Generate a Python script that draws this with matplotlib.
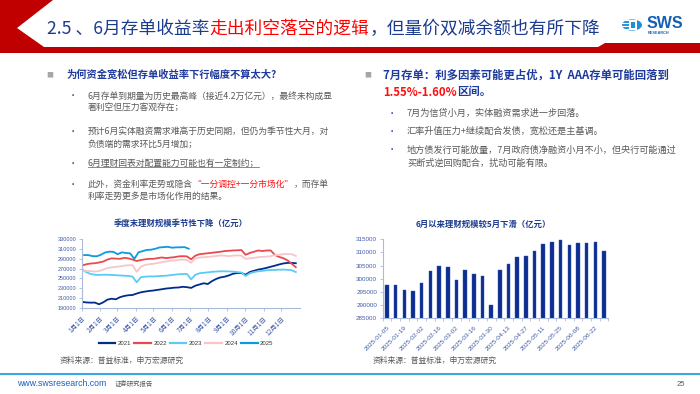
import matplotlib
matplotlib.use('Agg')
import matplotlib.pyplot as plt
from matplotlib.patches import Polygon, Circle, Rectangle
from matplotlib.lines import Line2D
from matplotlib.ticker import FixedLocator
import numpy as np
import pandas as pd

CJK = ['Noto Sans CJK SC', 'DejaVu Sans']
LAT = ['Liberation Sans', 'DejaVu Sans']
plt.rcParams['font.family'] = CJK

# ---------------- data ----------------
month_labels = ['1月1日', '2月1日', '3月1日', '4月1日', '5月1日', '6月1日',
                '7月1日', '8月1日', '9月1日', '10月1日', '11月1日', '12月1日']
month_days = [0, 31, 59, 90, 120, 151, 181, 212, 243, 273, 304, 334]
week_days = list(range(1, 359, 7))  # weekly observation days (day of year)

v2021 = [201700, 200800, 200300, 200500, 197000, 201000, 206500, 208400, 207200, 211500,
         214000, 215500, 216000, 219000, 221500, 223000, 224300, 225200, 226500, 227800,
         229200, 230000, 231000, 231400, 232800, 232000, 230500, 235000, 237500, 240000,
         238500, 244500, 249000, 252000, 253500, 256000, 259500, 261000, 261000, 257500,
         263000, 265500, 268000, 269500, 271500, 273800, 276000, 278500, 280500, 281700,
         281700, 281000]
v2022 = [276500, 279000, 280500, 281000, 282500, 284500, 288500, 291000, 290500, 290000,
         292000, 291000, 288500, 285500, 287500, 289000, 290000, 290000, 291500, 292800,
         291500, 292500, 293400, 295000, 295500, 295000, 289000, 296500, 299500, 300500,
         301500, 302400, 303500, 304500, 305900, 306500, 307200, 307500, 308000, 298300,
         302000, 304500, 307200, 306000, 307000, 307200, 298000, 294000, 291400, 287000,
         280000, 273000]
v2023 = [268000, 262500, 259000, 257500, 257000, 257500, 257500, 257000, 256500, 256000,
         255500, 255000, 253500, 242000, 252500, 253500, 254000, 254000, 254500, 255000,
         255500, 256500, 257500, 258500, 259000, 259000, 248000, 257500, 260500, 261500,
         262400, 263500, 264000, 264500, 264500, 264300, 263800, 263000, 262000, 255000,
         260500, 263000, 264500, 265500, 266500, 267200, 267200, 267800, 268000, 267500,
         266800, 263000]
v2024 = [266500, 265500, 264800, 264000, 265000, 268000, 271000, 272500, 273500, 274500,
         276000, 277000, 277000, 263500, 274000, 277500, 279000, 280000, 281500, 283000,
         284500, 286000, 287000, 288000, 288500, 287500, 282000, 291000, 292500, 293400,
         294000, 295000, 295800, 296900, 296500, 295500, 296500, 297000, 296500, 290000,
         291000, 292000, 293400, 294000, 294500, 295500, 297500, 298300, 299500, 300000,
         299500, 296000]

bar_dates = ['2025-01-05', '2025-01-12', '2025-01-19', '2025-01-26', '2025-02-02',
             '2025-02-09', '2025-02-16', '2025-02-23', '2025-03-02', '2025-03-09',
             '2025-03-16', '2025-03-23', '2025-03-30', '2025-04-06', '2025-04-13',
             '2025-04-20', '2025-04-27', '2025-05-04', '2025-05-11', '2025-05-18',
             '2025-05-25', '2025-06-01', '2025-06-08', '2025-06-15', '2025-06-22',
             '2025-06-29']
v2025 = [297700, 297700, 295600, 295200, 298300, 303000, 304700, 304300, 299400, 303300,
         302000, 301200, 290000, 303300, 305800, 308300, 308700, 310600, 313300, 314000,
         314700, 312800, 313500, 313700, 314000, 310700]
series_names = ['2021', '2022', '2023', '2024', '2025']

# ---------------- figure ----------------
W, H = 700, 394
fig = plt.figure(figsize=(7, 3.94), dpi=100)
fig.patch.set_facecolor('white')
renderer = fig.canvas.get_renderer()


def fx(x):
    return x / W


def fy(y):
    return 1 - y / H


def seg_text(x, y, segs, size, weight='normal', family=CJK):
    texts = []
    for s, c in segs:
        t = fig.text(fx(x), fy(y), s, color=c, fontsize=size, fontweight=weight,
                     va='center', ha='left', family=family)
        bb = t.get_window_extent(renderer=renderer)
        x += bb.width
        texts.append(t)
    return texts


RED = '#C00000'
TBLUE = '#1B3B8E'
HBLUE = '#1F3A9E'
GRAY = '#595959'
BRED = '#FF1010'

# header shape
hdr = [(0, 0), (53, 0), (17, 28), (44, 47), (598, 47), (605, 43), (700, 43), (700, 53), (0, 53)]
fig.patches.append(Polygon([(fx(a), fy(b)) for a, b in hdr], closed=True,
                           transform=fig.transFigure, facecolor=RED, edgecolor='none'))

seg_text(47, 29, [('2.5 、6月存单收益率', TBLUE), ('走出利空落空的逻辑', '#FF0000'),
                  ('，但量价双减余额也有所下降', TBLUE)], 12.75)

# logo
fig.patches.append(Circle((fx(632), fy(25)), 10 / W, transform=fig.transFigure,
                          facecolor='#1E90DA', edgecolor='none'))
fig.patches.append(Rectangle((fx(629), fy(30)), 8 / W, 10 / H, transform=fig.transFigure,
                             facecolor='white', edgecolor='none'))
fig.patches.append(Rectangle((fx(631), fy(28)), 4 / W, 6 / H, transform=fig.transFigure,
                             facecolor='#1E90DA', edgecolor='none'))
for yy in (20, 23, 26, 29):
    fig.lines.append(Line2D([fx(622), fx(628)], [fy(yy), fy(yy)], transform=fig.transFigure,
                            color='white', lw=0.8))
fig.text(fx(647), fy(23), 'SWS', fontsize=11.5, fontweight='bold', color='#1560B5',
         va='center', ha='left', family=LAT)
fig.text(fx(648), fy(33), 'RESEARCH', fontsize=2.8, fontweight='bold', color='#1560B5',
         va='center', ha='left', family=LAT)

# ---------- left text block ----------
fig.text(fx(50), fy(75), '■', fontsize=5, color='#A6A6A6', va='center', ha='center')
fig.text(fx(66), fy(75), '为何资金宽松但存单收益率下行幅度不算太大?', fontsize=7.4,
         fontweight='bold', color=HBLUE, va='center', ha='left')
for yy in (96, 131, 163, 184):
    fig.text(fx(73), fy(yy), '•', fontsize=6, color=HBLUE, va='center', ha='center')
BS = 6.35
seg_text(88, 96, [('6月存单到期量为历史最高峰（接近4.2万亿元），最终未构成显', GRAY)], BS)
seg_text(88, 108, [('著利空但压力客观存在；', GRAY)], BS)
seg_text(88, 131, [('预计6月实体融资需求难高于历史同期，但仍为季节性大月，对', GRAY)], BS)
seg_text(88, 144, [('负债端的需求环比5月增加；', GRAY)], BS)
ul = seg_text(88, 163, [('6月理财回表对配置能力可能也有一定制约；', GRAY)], BS)[0]
bb = ul.get_window_extent(renderer=renderer)
fig.lines.append(Line2D([bb.x0 / W, bb.x1 / W], [(bb.y0 + 1) / H, (bb.y0 + 1) / H],
                        transform=fig.transFigure, color=GRAY, lw=0.5))
seg_text(88, 184, [('此外，资金利率走势或隐含', GRAY), ('“一分调控+一分市场化”', BRED),
                   ('，而存单', GRAY)], BS)
seg_text(88, 196, [('利率走势更多是市场化作用的结果。', GRAY)], BS)

# ---------- right text block ----------
fig.text(fx(368), fy(75), '■', fontsize=5, color='#A6A6A6', va='center', ha='center')
seg_text(383, 75, [('7月存单：利多因素可能更占优，1Y  AAA存单可能回落到', HBLUE)], 8.2, 'bold')
seg_text(383, 92, [('1.55%-1.60%', BRED), ('区间。', HBLUE)], 8.2, 'bold')
for yy in (113, 131, 150):
    fig.text(fx(392), fy(yy), '•', fontsize=6, color=HBLUE, va='center', ha='center')
RS = 6.6
seg_text(407, 113, [('7月为信贷小月，实体融资需求进一步回落。', GRAY)], RS)
seg_text(407, 131, [('汇率升值压力+继续配合发债，宽松还是主基调。', GRAY)], RS)
seg_text(407, 150, [('地方债发行可能放量，7月政府债净融资小月不小，但央行可能通过', GRAY)], RS)
seg_text(407, 163, [('买断式逆回购配合，扰动可能有限。', GRAY)], RS)

# ---------- chart titles ----------
fig.text(fx(181), fy(223), '季度末理财规模季节性下降（亿元）', fontsize=6, fontweight='bold',
         color=TBLUE, ha='center', va='center')
fig.text(fx(483), fy(224), '6月以来理财规模较5月下滑（亿元）', fontsize=6, fontweight='bold',
         color=TBLUE, ha='center', va='center')

AX = '#A9BADC'
TICK = '#3F5BA9'

# ---------- left line chart ----------
ax1 = fig.add_axes([fx(81.7), fy(307.7), (300 - 81.7) / W, (307.7 - 239.3) / H])
colors = ['#002C8C', '#E84A4F', '#5BCBF5', '#F8C6C8', '#0A9BE0']
days2025 = list(pd.to_datetime(bar_dates).dayofyear - 1)
all_x = [week_days, week_days, week_days, week_days, days2025]
all_y = [v2021, v2022, v2023, v2024, v2025]
for xs, ys, c, n in zip(all_x, all_y, colors, series_names):
    ax1.plot(xs, ys, color=c, lw=1.3, label=n, solid_joinstyle='round')
ax1.set_xlim(0, 365)
ax1.set_ylim(190000, 330000)
ax1.set_yticks(list(range(190000, 330001, 20000)))
ax1.set_yticklabels([str(v) for v in range(190000, 330001, 20000)], family=LAT,
                    fontsize=4, color=TICK)
ax1.set_xticks(month_days)
ax1.set_xticklabels(month_labels, rotation=45, ha='right', rotation_mode='anchor',
                    fontsize=4.7, color=TICK)
ax1.tick_params(axis='both', length=2, width=0.6, color=AX, pad=2)
ax1.tick_params(axis='x', pad=3)
for s in ('top', 'right'):
    ax1.spines[s].set_visible(False)
for s in ('left', 'bottom'):
    ax1.spines[s].set_color(AX)
    ax1.spines[s].set_linewidth(0.8)
ax1.patch.set_alpha(0)
leg = ax1.legend(ncol=5, loc='center', bbox_to_anchor=(fx(186), fy(343)),
                 bbox_transform=fig.transFigure, frameon=False, prop={'family': LAT, 'size': 4.3},
                 handlelength=2.8, handletextpad=0.4, columnspacing=0.5)
for t in leg.get_texts():
    t.set_color('#333333')
for l in leg.get_lines():
    l.set_linewidth(1.6)

# ---------- right bar chart ----------
ax2 = fig.add_axes([fx(382.7), fy(318.3), (608.3 - 382.7) / W, (318.3 - 239.3) / H])
xpos = np.arange(len(v2025))
ax2.bar(xpos, v2025, width=0.4, color='#0D2E8F', edgecolor='#2E56B8', linewidth=0.3)
ax2.set_xlim(-0.5, len(v2025) - 0.5)
ax2.set_ylim(285000, 315000)
ax2.set_yticks(list(range(285000, 315001, 5000)))
ax2.set_yticklabels([str(v) for v in range(285000, 315001, 5000)], family=LAT,
                    fontsize=4.5, color=TICK)
ax2.set_xticks(xpos[::2])
ax2.set_xticklabels(bar_dates[::2], rotation=45, ha='right', rotation_mode='anchor',
                    fontsize=4.6, color=TICK, family=LAT)
ax2.xaxis.set_minor_locator(FixedLocator(np.arange(-0.5, len(v2025), 1.0)))
ax2.tick_params(axis='x', which='major', length=0, pad=5)
ax2.tick_params(axis='x', which='minor', length=2, width=0.6, color=AX)
ax2.tick_params(axis='y', length=2, width=0.6, color=AX, pad=2)
for s in ('top', 'right'):
    ax2.spines[s].set_visible(False)
for s in ('left', 'bottom'):
    ax2.spines[s].set_color(AX)
    ax2.spines[s].set_linewidth(0.8)
ax2.patch.set_alpha(0)

# ---------- sources & footer ----------
fig.text(fx(60), fy(361), '资料来源：普益标准，申万宏源研究', fontsize=5.6, color=GRAY,
         ha='left', va='center')
fig.text(fx(373), fy(361), '资料来源：普益标准，申万宏源研究', fontsize=5.6, color=GRAY,
         ha='left', va='center')
fig.lines.append(Line2D([0, 1], [fy(374), fy(374)], transform=fig.transFigure,
                        color='#39A9E6', lw=1.5))
fig.text(fx(17), fy(384), 'www.swsresearch.com', fontsize=6.3, color='#1F5FBF',
         ha='left', va='center', family=LAT)
fig.text(fx(115), fy(384), '证券研究报告', fontsize=4.6, color=GRAY, ha='left', va='center')
fig.text(fx(681), fy(384), '25', fontsize=5.5, color=GRAY, ha='center', va='center', family=LAT)

fig.savefig('out.png', dpi=100, facecolor='white')
